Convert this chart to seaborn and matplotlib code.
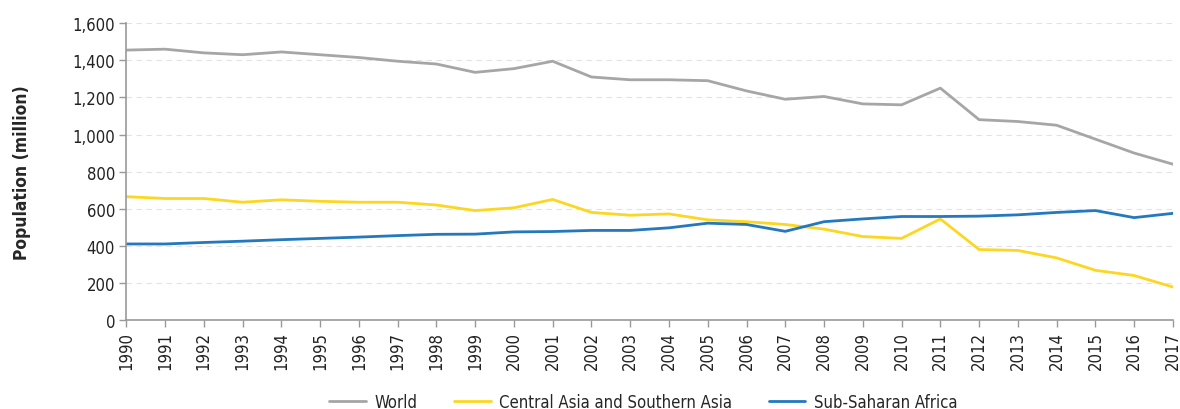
import pandas as pd
import matplotlib.pyplot as plt
import seaborn as sns

# values (million people)
years = list(range(1990, 2018))
world = [1455, 1460, 1440, 1430, 1445, 1430, 1415, 1395, 1380, 1335,
         1355, 1395, 1310, 1295, 1295, 1290, 1235, 1190, 1205, 1165,
         1160, 1250, 1080, 1070, 1050, 975, 900, 840]
central_south_asia = [665, 655, 655, 635, 648, 640, 635, 635, 620, 590,
                      605, 650, 580, 565, 572, 540, 530, 515, 490, 450,
                      440, 545, 380, 375, 335, 268, 240, 178]
sub_saharan = [410, 410, 418, 425, 433, 440, 447, 455, 462, 463,
               475, 477, 483, 483, 497, 522, 515, 478, 530, 545,
               558, 558, 560, 567, 580, 590, 552, 575]
series_names = ["World", "Central Asia and Southern Asia", "Sub-Saharan Africa"]
colors = ["#a6a6a6", "#fcd722", "#2478bd"]

df = pd.DataFrame({"year": years * 3,
                   "value": world + central_south_asia + sub_saharan,
                   "region": [series_names[0]] * len(years) + [series_names[1]] * len(years)
                             + [series_names[2]] * len(years)})

sns.set_style("white")
plt.rcParams['font.family'] = ['DejaVu Sans']
plt.rcParams['font.stretch'] = 'condensed'

fig = plt.figure(figsize=(11.8, 4.1), dpi=100)
ax = fig.add_axes([0.107, 0.217, 0.887, 0.724])
sns.lineplot(data=df, x="year", y="value", hue="region", palette=colors,
             hue_order=series_names, linewidth=2, ax=ax)

ax.set_xlim(1990, 2017)
ax.set_ylim(0, 1600)
ax.set_xticks(years)
ax.set_xticklabels([str(y) for y in years], rotation=90, fontsize=12, color="#222222")
ax.set_yticks(range(0, 1601, 200))
ax.set_yticklabels([f"{v:,}" for v in range(0, 1601, 200)], fontsize=12, color="#222222")
ax.yaxis.grid(True, linestyle=(0, (5, 4)), color="#e3e3e3", linewidth=0.8)
ax.set_axisbelow(True)
ax.set_xlabel("")
ax.set_ylabel("Population (million)", fontsize=12.5, fontweight="bold", labelpad=30)

for side in ["top", "right"]:
    ax.spines[side].set_visible(False)
for side in ["left", "bottom"]:
    ax.spines[side].set_color("#999999")
    ax.spines[side].set_linewidth(1.2)
ax.tick_params(axis="both", which="both", length=5, color="#999999", width=1, direction="out",
               left=True, bottom=True, pad=3)

handles, labels = ax.get_legend_handles_labels()
ax.get_legend().remove()
fig.legend(handles, labels, loc="center", bbox_to_anchor=(0.545, 0.018), ncol=3, frameon=False,
           fontsize=12, handlelength=2.2, columnspacing=2.2, handletextpad=0.5)

fig.savefig("out.png")
